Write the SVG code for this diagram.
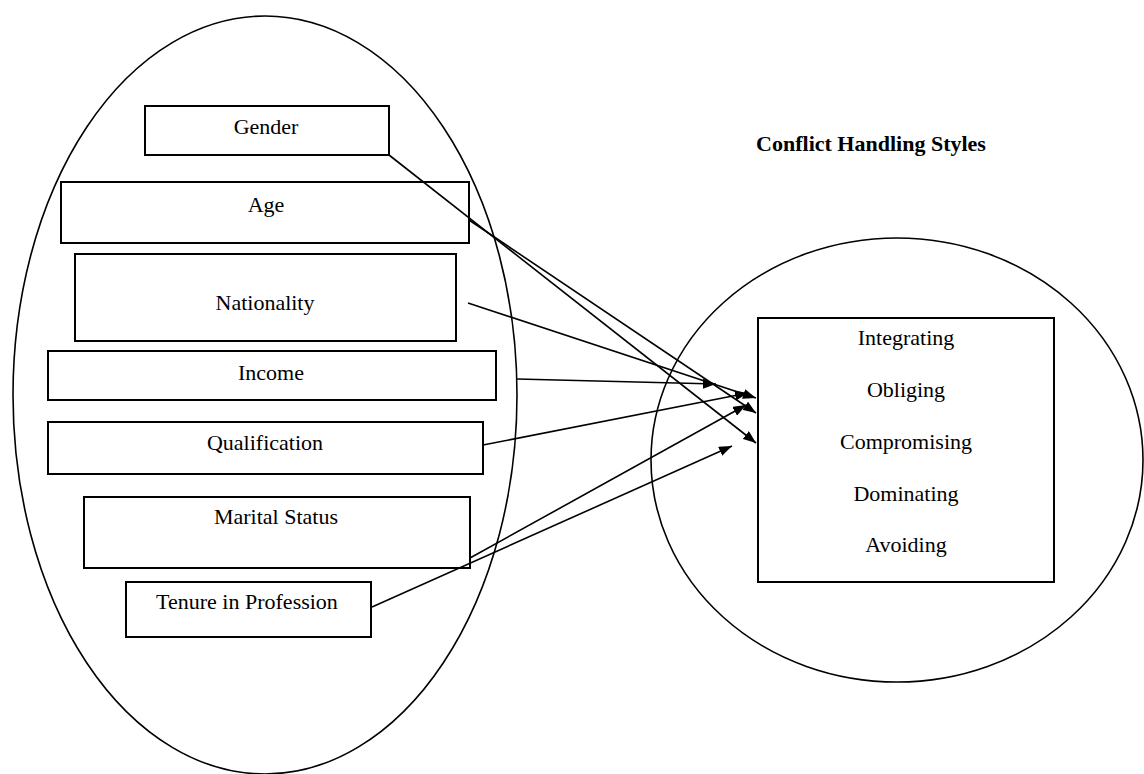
<svg xmlns="http://www.w3.org/2000/svg" width="1144" height="774" viewBox="0 0 1144 774">
<defs>
<style>
.bg{fill:#fff}
.ell{fill:none;stroke:#000;stroke-width:1.6}
.box{fill:#fff;stroke:#000;stroke-width:2}
.box2{fill:none;stroke:#000;stroke-width:2}
.t{font-family:"Liberation Serif","Times New Roman",serif;font-size:22px;fill:#000;text-anchor:middle}
.title{font-family:"Liberation Serif","Times New Roman",serif;font-size:22px;font-weight:bold;fill:#000;text-anchor:middle}
.c{stroke:#000;stroke-width:1.6;fill:none;marker-end:url(#ah)}
</style>
<marker id="ah" markerUnits="userSpaceOnUse" markerWidth="14" markerHeight="10" refX="13" refY="5" orient="auto">
<path d="M0,0 L13,5 L0,10 z" fill="#000"/>
</marker>
</defs>
<rect class="bg" x="0" y="0" width="1144" height="774"/>
<g id="left-group">
<ellipse class="ell" cx="265" cy="395" rx="252" ry="379"/>
</g>
<g id="right-group">
<ellipse class="ell" cx="897" cy="460" rx="246" ry="222"/>
</g>
<g id="gender"><rect class="box" x="145" y="106" width="244" height="49"/><text class="t" x="266" y="134">Gender</text></g>
<g id="age"><rect class="box" x="61" y="182" width="408" height="61"/><text class="t" x="266" y="212">Age</text></g>
<g id="nationality"><rect class="box" x="75" y="254" width="381" height="87"/><text class="t" x="265" y="310">Nationality</text></g>
<g id="income"><rect class="box" x="48" y="351" width="448" height="49"/><text class="t" x="271" y="380">Income</text></g>
<g id="qualification"><rect class="box" x="48" y="422" width="435" height="52"/><text class="t" x="265" y="450">Qualification</text></g>
<g id="marital"><rect class="box" x="84" y="497" width="386" height="71"/><text class="t" x="276" y="524">Marital Status</text></g>
<g id="tenure"><rect class="box" x="126" y="582" width="245" height="55"/><text class="t" x="247" y="609">Tenure in Profession</text></g>
<g id="title"><text class="title" x="871" y="151">Conflict Handling Styles</text></g>
<g id="styles">
<rect class="box2" x="758" y="318" width="296" height="264"/>
<text class="t" x="906" y="345">Integrating</text>
<text class="t" x="906" y="397">Obliging</text>
<text class="t" x="906" y="449">Compromising</text>
<text class="t" x="906" y="501">Dominating</text>
<text class="t" x="906" y="552">Avoiding</text>
</g>
<g id="connectors">
<line class="c" x1="389" y1="155" x2="756" y2="443"/>
<line class="c" x1="469" y1="220" x2="756" y2="413"/>
<line class="c" x1="468" y1="303" x2="756" y2="398"/>
<line class="c" x1="517" y1="379" x2="716" y2="384"/>
<line class="c" x1="483" y1="445" x2="748" y2="393"/>
<line class="c" x1="470" y1="558" x2="746" y2="405"/>
<line class="c" x1="372" y1="607" x2="732" y2="446"/>
</g>
</svg>
